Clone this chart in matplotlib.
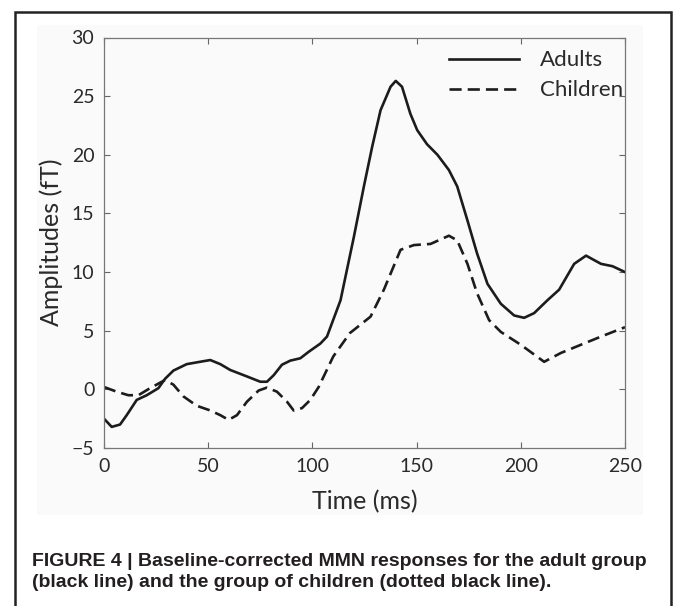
"""Baseline-corrected MMN responses: adults vs children (figure 4 recreation)."""
import matplotlib
matplotlib.use("Agg")
import matplotlib.pyplot as plt
from matplotlib.patches import Rectangle

# Adults (solid line), time in ms / amplitude in fT
adult_t = [0, 3.7, 7.7, 10.9, 15.7, 20.5, 26.1, 29.3, 33.3, 39.7, 47.7, 51, 55.8,
           60.6, 68.6, 75, 78.2, 81.4, 85.4, 89.4, 94.2, 98.2, 103.8, 107, 113.5,
           119.9, 124.7, 128.7, 132.7, 137.5, 140, 143, 147, 150.3, 155, 160,
           165.5, 169.5, 174.4, 179, 184, 190.4, 196.8, 201.6, 206.4, 212.8,
           218.4, 225.6, 231.3, 238.5, 244, 250]
adult_v = [-2.5, -3.2, -3.0, -2.2, -0.9, -0.5, 0.1, 0.9, 1.6, 2.15, 2.4, 2.5, 2.15,
           1.65, 1.1, 0.65, 0.65, 1.2, 2.1, 2.45, 2.65, 3.2, 3.9, 4.5, 7.6,
           13.0, 17.3, 20.7, 23.8, 25.8, 26.3, 25.8, 23.5, 22.1, 20.9, 20.0,
           18.7, 17.3, 14.4, 11.6, 9.0, 7.3, 6.3, 6.1, 6.5, 7.6,
           8.5, 10.7, 11.4, 10.7, 10.5, 10.0]

# Children (dashed line)
child_t = [0, 6.1, 11.7, 16.5, 22.1, 29.3, 33.3, 38.1, 44.5, 51, 55.8, 59.8, 63.8,
           68.6, 74.2, 78.2, 83, 87.8, 91, 95, 99, 103, 110, 118, 127.9, 134.3,
           142.3, 148.7, 156.7, 165.5, 169.5, 174.4, 179, 184.8, 190.4, 200,
           211.2, 219.2, 228.8, 238.5, 250]
child_v = [0.2, -0.2, -0.5, -0.5, 0.1, 0.8, 0.4, -0.6, -1.4, -1.8, -2.2, -2.6, -2.2,
           -1.05, -0.1, 0.15, -0.2, -1.05, -1.8, -1.6, -0.9, 0.2, 2.8, 4.8, 6.2, 8.5,
           11.9, 12.3, 12.4, 13.1, 12.7, 10.7, 8.2, 5.9, 4.9, 3.8,
           2.35, 3.1, 3.8, 4.5, 5.3]

x_ticks = [0, 50, 100, 150, 200, 250]
y_ticks = [-5, 0, 5, 10, 15, 20, 25, 30]

caption = ("FIGURE 4 | Baseline-corrected MMN responses for the adult group\n"
           "(black line) and the group of children (dotted black line).")

plt.rcParams["font.family"] = ["Lato", "DejaVu Sans"]

fig = plt.figure(figsize=(6.73, 6.06), dpi=100)
W, H = 673, 606

# faint grey backdrop of the exported plot, and the frame around the figure
fig.patches.append(Rectangle((37 / W, 1 - 515 / H), (643 - 37) / W, (515 - 25) / H,
                             transform=fig.transFigure, facecolor="#fafafa",
                             edgecolor="none", zorder=-5))
fig.patches.append(Rectangle((15 / W, -0.05), (671 - 15) / W, 1 - 12 / H + 0.05,
                             transform=fig.transFigure, facecolor="none",
                             edgecolor="#222222", linewidth=1.8, zorder=5))

ax = fig.add_axes([104 / W, 1 - 448 / H, (625 - 104) / W, (448 - 37.5) / H])
ax.set_facecolor("none")

ink = "#1c1c1c"
ax.plot(adult_t, adult_v, color=ink, linewidth=1.9, label="Adults")
ax.plot(child_t, child_v, color=ink, linewidth=1.9, dashes=(4.6, 2.3), label="Children")

ax.set_xlim(0, 250)
ax.set_ylim(-5, 30)
ax.set_xticks(x_ticks)
ax.set_yticks(y_ticks)
ax.set_yticklabels([("\u2212" + str(-v)) if v < 0 else str(v) for v in y_ticks])
ax.tick_params(direction="in", length=4, width=0.8, color="#666666",
               top=True, right=True, labelsize=14, labelcolor="#2a2a2a", pad=7)
for s in ax.spines.values():
    s.set_color("#777777")
    s.set_linewidth(0.9)

ax.set_xlabel("Time (ms)", fontsize=18, color="#2a2a2a", labelpad=11)
ax.set_ylabel("Amplitudes (fT)", fontsize=18, color="#2a2a2a", labelpad=6)

ax.legend(loc="upper right", frameon=False, fontsize=16, handlelength=3.15,
          handletextpad=0.92, labelspacing=0.45, borderaxespad=0.0,
          labelcolor="#2a2a2a", bbox_to_anchor=(1.013, 0.99))

fig.text(32 / W, 1 - 553 / H, caption, fontsize=14, fontweight="bold",
         family=["Liberation Sans Narrow", "Liberation Sans", "DejaVu Sans"],
         color="#231f20", va="top", ha="left", linespacing=1.3)

fig.savefig("out.png", dpi=100)
